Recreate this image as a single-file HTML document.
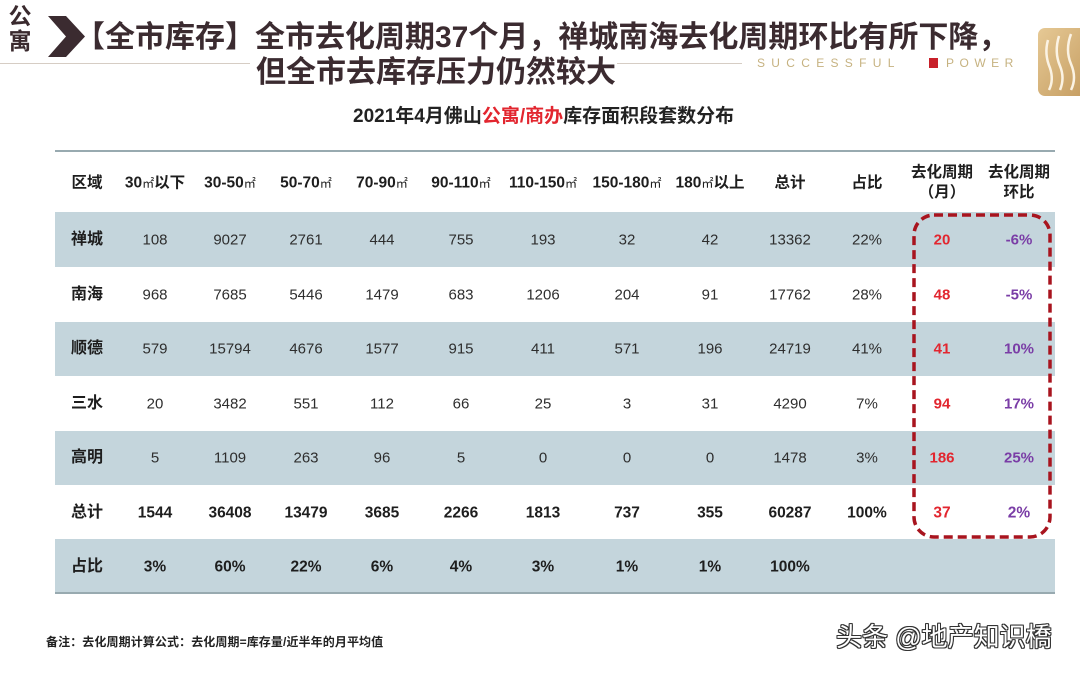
<!DOCTYPE html>
<html><head><meta charset="utf-8">
<style>
html,body{margin:0;padding:0;background:#fff;}
body{width:1080px;height:674px;position:relative;overflow:hidden;font-family:"Liberation Sans","Noto Sans CJK SC",sans-serif;color:#2e2e2e;}
.abs{position:absolute;}
.t1{position:absolute;left:75px;font-size:30px;font-weight:bold;color:#3b2b30;line-height:30px;white-space:nowrap;}
.band{position:absolute;left:55px;width:1000px;background:#c4d5dc;}
.hl{position:absolute;left:55px;width:1000px;height:2px;background:#98aab0;}
.r{position:absolute;left:0;width:1080px;height:0;}
.r div{position:absolute;transform:translate(-50%,-50%);white-space:nowrap;line-height:1;font-size:15px;}
.h div{font-weight:bold;font-size:15.5px;color:#1e1e1e;}
.b div{font-weight:bold;font-size:15.5px;color:#1e1e1e;}
.r .lab{font-weight:bold;font-size:16px;color:#1e1e1e;}
.c0{left:87px}.c1{left:155px}.c2{left:230px}.c3{left:306px}.c4{left:382px}.c5{left:461px}.c6{left:543px}.c7{left:627px}.c8{left:710px}.c9{left:790px}.c10{left:867px}.c11{left:942px}.c12{left:1019px}
.r .red{color:#e2262f;font-weight:bold;}
.r .pur{color:#7a3da6;font-weight:bold;}
.m2{font-size:0.78em;font-weight:normal;}
.sp{position:absolute;top:56px;font-size:12px;letter-spacing:6.3px;color:#c6b280;line-height:14px;white-space:nowrap;}
</style></head><body>

<!-- top-left icon -->
<div class="abs" style="left:7px;top:4px;width:26px;font-size:23px;font-weight:bold;line-height:25px;color:#3a2a2e;text-align:center;">公<br>寓</div>
<svg class="abs" style="left:0;top:0" width="1080" height="140">
  <polygon points="48,16 66,16 85,36.5 66,57 48,57 66,36.5" fill="#3b2b30"/>
  <line x1="0" y1="63.5" x2="250" y2="63.5" stroke="#d6cdc4" stroke-width="1"/>
  <line x1="617" y1="63.5" x2="742" y2="63.5" stroke="#d6cdc4" stroke-width="1"/>
  <rect x="929" y="58" width="9" height="10" fill="#c8202a"/>
  <defs><linearGradient id="g" x1="0" y1="0" x2="1" y2="1"><stop offset="0" stop-color="#e6c995"/><stop offset="1" stop-color="#c39a5e"/></linearGradient></defs>
  <rect x="1038" y="28" width="55" height="68" rx="7" fill="url(#g)"/>
  <path d="M1048,40 q-4,14 2,28 q4,12 -1,22" stroke="#fbf3e4" stroke-width="2.5" fill="none"/>
  <path d="M1059,36 q-5,16 1,30 q5,12 0,24" stroke="#fbf3e4" stroke-width="2.5" fill="none"/>
  <path d="M1071,34 q-6,16 0,30 q6,14 0,26" stroke="#fbf3e4" stroke-width="2.5" fill="none"/>
</svg>

<div class="t1" style="top:23px;">【全市库存】全市去化周期37个月，禅城南海去化周期环比有所下降，</div>
<div class="t1" style="top:58px;left:256px;">但全市去库存压力仍然较大</div>

<div class="sp" style="left:757px;">SUCCESSFUL</div>
<div class="sp" style="left:946px;letter-spacing:5.5px;">POWER</div>

<div class="abs" style="left:353px;top:107px;font-size:19px;font-weight:bold;color:#222;line-height:20px;white-space:nowrap;">2021年4月佛山<span style="color:#e2262f">公寓/商办</span>库存面积段套数分布</div>

<!-- table bands -->
<div class="band" style="top:212px;height:55px;"></div>
<div class="band" style="top:322px;height:54px;"></div>
<div class="band" style="top:431px;height:54px;"></div>
<div class="band" style="top:539px;height:54px;"></div>
<div class="hl" style="top:150px;"></div>
<div class="hl" style="top:592px;"></div>

<div class="r h" style="top:183px;">
<div class="c0">区域</div><div class="c1">30<span class="m2">㎡</span>以下</div><div class="c2">30-50<span class="m2">㎡</span></div><div class="c3">50-70<span class="m2">㎡</span></div><div class="c4">70-90<span class="m2">㎡</span></div><div class="c5">90-110<span class="m2">㎡</span></div><div class="c6">110-150<span class="m2">㎡</span></div><div class="c7">150-180<span class="m2">㎡</span></div><div class="c8">180<span class="m2">㎡</span>以上</div><div class="c9">总计</div><div class="c10">占比</div>
<div class="c11" style="line-height:20px;text-align:center;top:0px;">去化周期<br>（月）</div><div class="c12" style="line-height:20px;text-align:center;">去化周期<br>环比</div>
</div>

<div class="r" style="top:240px;"><div class="c0 lab">禅城</div><div class="c1">108</div><div class="c2">9027</div><div class="c3">2761</div><div class="c4">444</div><div class="c5">755</div><div class="c6">193</div><div class="c7">32</div><div class="c8">42</div><div class="c9">13362</div><div class="c10">22%</div><div class="c11 red">20</div><div class="c12 pur">-6%</div></div>
<div class="r" style="top:295px;"><div class="c0 lab">南海</div><div class="c1">968</div><div class="c2">7685</div><div class="c3">5446</div><div class="c4">1479</div><div class="c5">683</div><div class="c6">1206</div><div class="c7">204</div><div class="c8">91</div><div class="c9">17762</div><div class="c10">28%</div><div class="c11 red">48</div><div class="c12 pur">-5%</div></div>
<div class="r" style="top:349px;"><div class="c0 lab">顺德</div><div class="c1">579</div><div class="c2">15794</div><div class="c3">4676</div><div class="c4">1577</div><div class="c5">915</div><div class="c6">411</div><div class="c7">571</div><div class="c8">196</div><div class="c9">24719</div><div class="c10">41%</div><div class="c11 red">41</div><div class="c12 pur">10%</div></div>
<div class="r" style="top:404px;"><div class="c0 lab">三水</div><div class="c1">20</div><div class="c2">3482</div><div class="c3">551</div><div class="c4">112</div><div class="c5">66</div><div class="c6">25</div><div class="c7">3</div><div class="c8">31</div><div class="c9">4290</div><div class="c10">7%</div><div class="c11 red">94</div><div class="c12 pur">17%</div></div>
<div class="r" style="top:458px;"><div class="c0 lab">高明</div><div class="c1">5</div><div class="c2">1109</div><div class="c3">263</div><div class="c4">96</div><div class="c5">5</div><div class="c6">0</div><div class="c7">0</div><div class="c8">0</div><div class="c9">1478</div><div class="c10">3%</div><div class="c11 red">186</div><div class="c12 pur">25%</div></div>
<div class="r b" style="top:513px;"><div class="c0 lab">总计</div><div class="c1">1544</div><div class="c2">36408</div><div class="c3">13479</div><div class="c4">3685</div><div class="c5">2266</div><div class="c6">1813</div><div class="c7">737</div><div class="c8">355</div><div class="c9">60287</div><div class="c10">100%</div><div class="c11 red">37</div><div class="c12 pur">2%</div></div>
<div class="r b" style="top:567px;"><div class="c0 lab">占比</div><div class="c1">3%</div><div class="c2">60%</div><div class="c3">22%</div><div class="c4">6%</div><div class="c5">4%</div><div class="c6">3%</div><div class="c7">1%</div><div class="c8">1%</div><div class="c9">100%</div></div>

<svg class="abs" style="left:0;top:0" width="1080" height="674">
  <rect x="914" y="215" width="136" height="322" rx="20" ry="20" fill="none" stroke="#a8141e" stroke-width="3.5" stroke-dasharray="9,5"/>
</svg>

<div class="abs" style="left:46px;top:635px;font-size:12px;font-weight:bold;color:#222;letter-spacing:0.1px;line-height:14px;white-space:nowrap;">备注：去化周期计算公式：去化周期=库存量/近半年的月平均值</div>

<div class="abs" style="left:836px;top:622px;font-size:26px;color:#fff;line-height:30px;white-space:nowrap;text-shadow:1px 0 0 #333,-1px 0 0 #333,0 1px 0 #333,0 -1px 0 #333,1px 1px 0 #333,-1px -1px 0 #333,1px -1px 0 #333,-1px 1px 0 #333;">头条 @地产知识橋</div>

</body></html>
